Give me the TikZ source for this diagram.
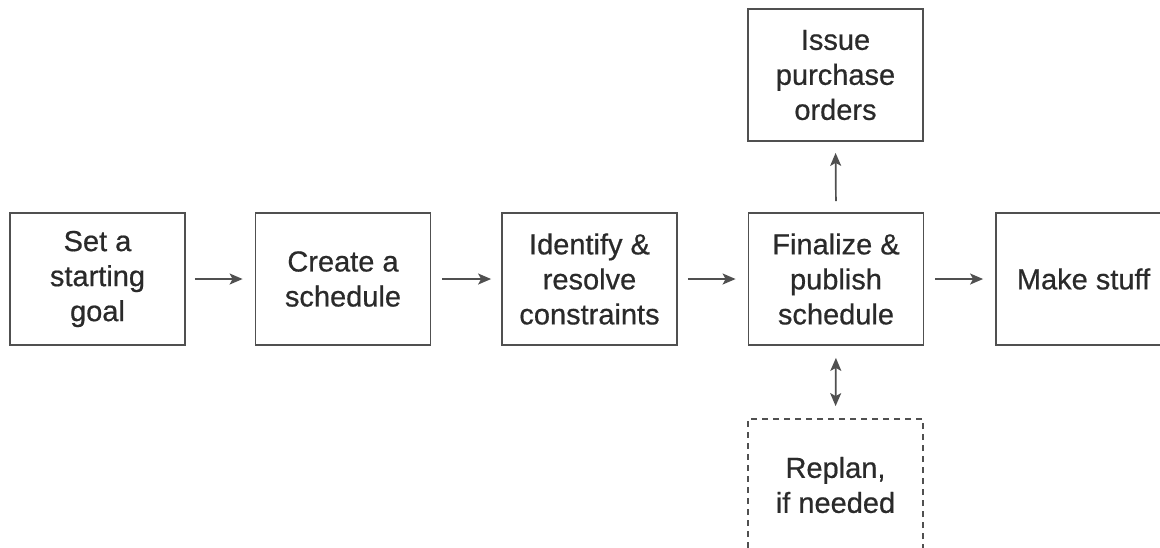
\documentclass[tikz,border=0pt]{standalone}
\usepackage{fontspec}
\setmainfont{Liberation Sans}[FakeBold=0.6]
\usetikzlibrary{arrows.meta}
\definecolor{ink}{HTML}{2A2A2A}
\definecolor{frame}{HTML}{505050}
\begin{document}
\begin{tikzpicture}[x=1pt,y=-1pt,
  stepbox/.style={draw=frame, line width=1.8pt, minimum width=175pt, minimum height=132pt,
    inner sep=0pt, align=center, text=ink,
    font=\fontsize{29pt}{35pt}\selectfont},
  planbox/.style={stepbox, dash pattern=on 6pt off 5pt},
  flow/.style={draw=frame, line width=1.7pt, -{Stealth[length=13pt,width=11pt,inset=3pt]}},
  twoway/.style={draw=frame, line width=1.7pt, {Stealth[length=13pt,width=11pt,inset=3pt]}-{Stealth[length=13pt,width=11pt,inset=3pt]}}]
  \useasboundingbox (0,0) rectangle (1160,547);
  \begin{scope}
  % boxes on the right and bottom run past the page edge
  \clip (0,0) rectangle (1160,547);
  \node[stepbox] (goal)    at (97.5,279)  {Set a\\starting\\goal};
  \node[stepbox] (create)  at (343,279)   {Create a\\schedule};
  \node[stepbox] (resolve) at (589.5,279) {Identify \&\\resolve\\constraints};
  \node[stepbox] (final)   at (836,279)   {Finalize \&\\publish\\schedule};
  \node[stepbox] (make)    at (1083.5,279){Make stuff};
  \node[stepbox] (orders)  at (835.5,75)  {Issue\\purchase\\orders};
  \node[planbox] (replan)  at (835.5,485) {Replan,\\if needed};
  \end{scope}
  \draw[flow, shorten <=9pt, shorten >=12pt] (goal.east) -- (create.west);
  \draw[flow, shorten <=11pt, shorten >=10pt] (create.east) -- (resolve.west);
  \draw[flow, shorten <=10pt, shorten >=12pt] (resolve.east) -- (final.west);
  \draw[flow, shorten <=11pt, shorten >=12pt] (final.east) -- (make.west);
  \draw[flow, shorten <=11pt, shorten >=11pt] (final.north) -- (orders.south);
  \draw[twoway, shorten <=12pt, shorten >=12pt] (final.south) -- (replan.north);
\end{tikzpicture}
\end{document}
